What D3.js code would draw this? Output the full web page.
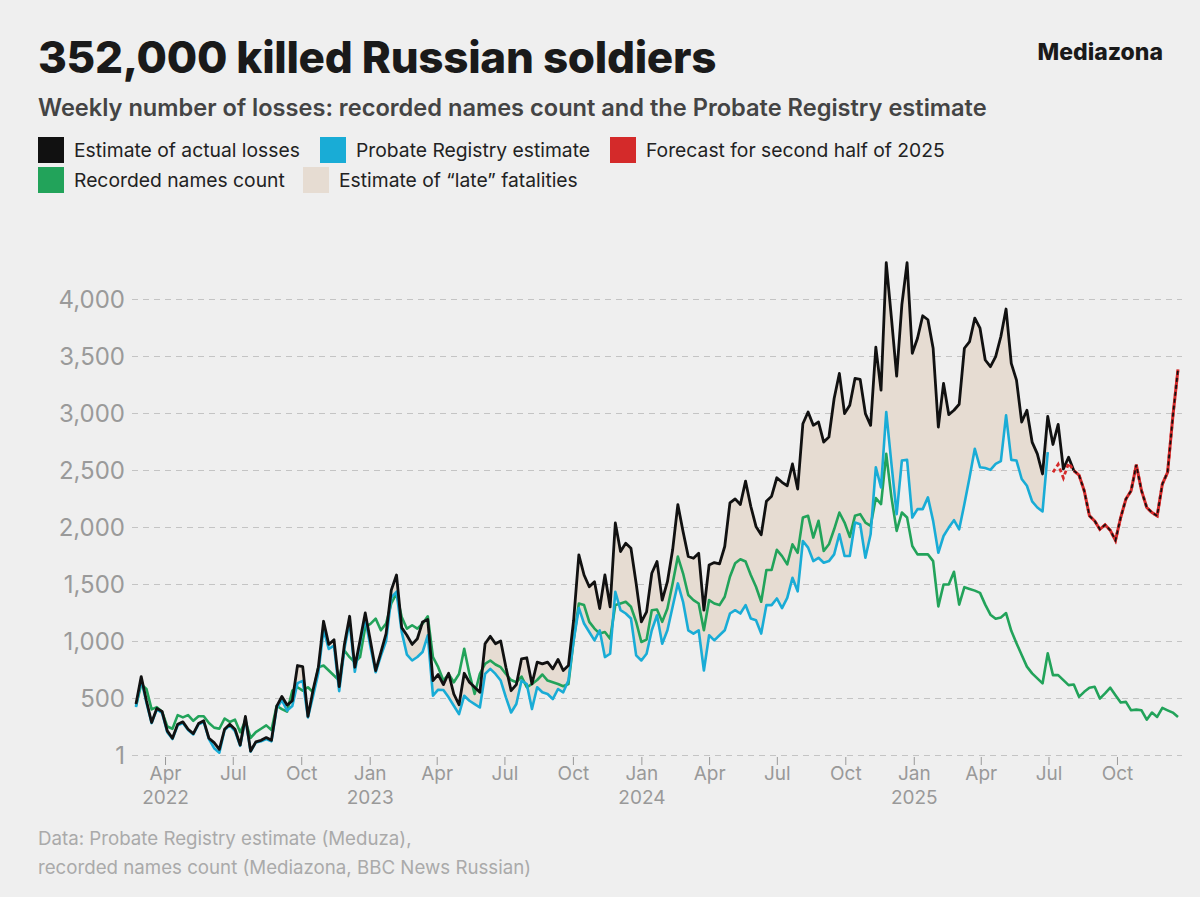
<!DOCTYPE html>
<html><head><meta charset="utf-8">
<script src="https://cdn.jsdelivr.net/npm/d3@7"></script>
<style>body{margin:0;background:#efefef;font-family:Inter,"Noto Sans",sans-serif}</style>
</head><body><svg id="c" width="1200" height="897"></svg>
<script>
const startDate = "2022-02-21";
const actualLosses = [447,688,476,285,409,382,212,147,270,291,226,188,276,300,147,109,50,226,270,226,88,338,35,115,129,153,129,426,514,438,476,785,776,338,573,770,1173,970,1011,600,970,1217,770,1005,
1246,1000,741,900,1064,1446,1579,1117,1050,970,1020,1167,1188,653,706,617,717,535,441,717,638,594,550,976,1041,976,1000,770,564,617,844,853,623,814,800,814,756,838,741,785,1182,1755,
1579,1476,1520,1285,1579,1300,2035,1785,1858,1814,1505,1168,1256,1594,1697,1359,1520,1800,2197,1961,1741,1726,1770,1270,1667,1688,1676,1829,2211,2247,2197,2402,2182,2005,1932,2226,2270,2432,
2392,2362,2553,2333,2906,3009,2892,2921,2745,2789,3127,3347,2995,3068,3303,3294,2995,2892,3577,3200,4318,3832,3324,3950,4318,3524,3656,3853,3818,3568,2877,3259,2986,3024,3077,3568,3627,3832,3744,3465,3406,3494,3671,3912,3435,3289,
2921,3024,2745,2642,2465,2970,2724,2900,2509,2612,2495];
const probate = [420,660,460,280,400,370,200,140,260,280,220,180,270,290,140,60,20,220,260,210,80,320,30,110,120,140,120,410,480,390,430,630,650,330,520,720,1100,930,960,560,930,1170,730,980,
1200,950,726,870,1000,1380,1432,1080,880,829,860,903,1050,520,573,570,506,432,359,520,476,447,417,711,756,711,653,506,373,447,653,623,403,594,550,535,491,579,550,653,1005,1290,
1153,1079,1006,1094,859,888,1432,1270,1241,1197,874,829,888,1094,1226,976,1094,1300,1505,1344,1094,1065,1094,741,1050,1006,1050,1094,1241,1270,1241,1315,1197,1182,1065,1315,1315,1373,
1289,1378,1554,1436,1877,1819,1701,1730,1686,1701,1760,1936,1745,1745,2039,2024,1730,1936,2524,2348,3009,2553,2113,2583,2589,2083,2157,2157,2260,2054,1774,1921,1995,2060,
1980,2201,2436,2686,2524,2518,2501,2553,2577,2980,2589,2583,2421,2362,2224,2171,2136,2656];
const recorded = [430,620,580,400,420,380,250,230,350,330,350,300,340,340,280,240,230,320,290,310,200,300,150,200,230,260,220,432,403,380,564,594,564,594,550,770,785,741,697,653,917,858,814,858,
1123,1150,1196,1094,1152,1329,1417,1211,1108,1138,1108,1152,1217,858,770,653,711,638,711,932,711,535,711,800,829,794,770,711,658,638,688,594,623,658,706,653,638,623,603,623,1005,1329,
1315,1168,1109,1065,1079,1020,1315,1329,1344,1300,1168,991,1012,1270,1276,1168,1285,1505,1741,1594,1403,1359,1329,1094,1359,1329,1315,1388,1564,1682,1717,1697,1579,1476,1344,1623,1623,1800,
1745,1672,1848,1774,2083,2098,1907,2054,1789,1848,1980,2127,2039,1913,2098,2113,2039,2010,2254,2201,2642,2260,1966,2127,2083,1833,1760,1760,1760,1701,1304,1495,1495,1607,
1319,1472,1457,1442,1422,1319,1231,1195,1207,1245,1089,981,878,775,716,672,628,893,701,701,657,613,619,510,554,590,598,495,540,590,525,460,466,392,398,392,310,372,334,413,392,372,334];
const forecastStart = 176;
const forecast = [2480,2550,2430,2560,2495,2456,2318,2098,2054,1980,2019,1971,1883,2083,2245,2318,2545,2318,2171,2127,2098,2377,2480,2965,3383];
const yTicks = [0,500,1000,1500,2000,2500,3000,3500,4000];
const yTickLabels = ["1","500","1,000","1,500","2,000","2,500","3,000","3,500","4,000"];
const monthNames = ["Jan","Apr","Jul","Oct"];

const svg = d3.select("#c");
svg.append("rect").attr("width",1200).attr("height",897).attr("fill","#efefef");
const t0 = d3.timeParse("%Y-%m-%d")(startDate);
const dateAt = i => d3.timeDay.offset(t0, i*7);
const x = d3.scaleTime().domain([t0, d3.timeDay.offset(t0,1400)]).range([136,1178]);
const y = d3.scaleLinear().domain([0,4000]).range([755,299]);

const yAxis = d3.axisLeft(y).tickValues(yTicks).tickFormat((d,i)=>yTickLabels[i]).tickSize(-1046);
const ga = svg.append("g").attr("transform","translate(1180,0)").call(yAxis);
ga.select(".domain").remove();
ga.selectAll(".tick line").attr("stroke","#c4c4c4").attr("stroke-dasharray","6,5").attr("transform","translate(-1048,0)").attr("x2",1050).attr("x1",0);
ga.selectAll(".tick text").attr("x",-1055).attr("dy","0.35em").attr("fill","#9a9a9a").style("font-size","24px").style("font-family","Inter,sans-serif");

const ticks = d3.timeMonth.range(new Date(2022,3,1), new Date(2025,11,1), 3);
const xAxis = d3.axisBottom(x).tickValues(ticks).tickSize(8).tickFormat(d=>monthNames[d.getMonth()/3]);
const gx = svg.append("g").attr("transform","translate(0,757)").call(xAxis);
gx.select(".domain").remove();
gx.selectAll(".tick line").attr("stroke","#999");
gx.selectAll(".tick text").attr("y",10).attr("fill","#999").style("font-size","19px").style("font-family","Inter,sans-serif");
gx.selectAll(".tick").filter(d=>d.getMonth()===0 || (d.getFullYear()===2022 && d.getMonth()===3))
  .append("text").attr("y",47).attr("fill","#999").style("font-size","19px").style("font-family","Inter,sans-serif")
  .attr("text-anchor","middle").text(d=>d.getFullYear());

const areaData = probate.map((v,i)=>({i, lo:v, hi:Math.max(v, actualLosses[i])}));
svg.append("path").datum(areaData).attr("fill","#e6dcd2")
  .attr("d", d3.area().x(d=>x(dateAt(d.i))).y0(d=>y(d.lo)).y1(d=>y(d.hi)));

const line = d3.line().x(d=>x(dateAt(d[0]))).y(d=>y(d[1]));
const pts = (arr,off=0)=>arr.map((v,i)=>[i+off,v]);
svg.append("path").datum(pts(recorded)).attr("fill","none").attr("stroke","#22a35a").attr("stroke-width",2.6).attr("stroke-linejoin","round").attr("d",line);
svg.append("path").datum(pts(probate)).attr("fill","none").attr("stroke","#19acd6").attr("stroke-width",2.6).attr("stroke-linejoin","round").attr("d",line);
svg.append("path").datum(pts(actualLosses)).attr("fill","none").attr("stroke","#111").attr("stroke-width",2.8).attr("stroke-linejoin","round").attr("d",line);
svg.append("path").datum(pts(forecast,forecastStart)).attr("fill","none").attr("stroke","#d42a2a").attr("stroke-width",2.8).attr("stroke-dasharray","4,3").attr("d",line);
const fc2 = pts(forecast,forecastStart).slice(4);
svg.append("path").datum(fc2).attr("fill","none").attr("stroke","#d42a2a").attr("stroke-width",3).attr("d",line);
svg.append("path").datum(fc2).attr("fill","none").attr("stroke","#111").attr("stroke-width",1.7).attr("stroke-dasharray","4,3").attr("d",line);

svg.append("text").attr("x",38).attr("y",73).text("352,000 killed Russian soldiers").attr("fill","#1a1a1a").style("font-size","44px").style("font-weight",800).style("font-family","Inter,sans-serif").style("letter-spacing","-0.3px");
svg.append("text").attr("x",1163).attr("y",60).attr("text-anchor","end").text("Mediazona").attr("fill","#1a1a1a").style("font-size","23px").style("font-weight",800).style("font-family","Inter,sans-serif");
svg.append("text").attr("x",38).attr("y",116).text("Weekly number of losses: recorded names count and the Probate Registry estimate").attr("fill","#444").style("font-size","23.6px").style("font-weight",600).style("font-family","Inter,sans-serif");
const legend = [
 [38,137,"#111","Estimate of actual losses"],[320,137,"#19acd6","Probate Registry estimate"],[610,137,"#d42a2a","Forecast for second half of 2025"],
 [38,167,"#22a35a","Recorded names count"],[303,167,"#e6dcd2","Estimate of “late” fatalities"]];
legend.forEach(([lx,ly,c,t])=>{
  svg.append("rect").attr("x",lx).attr("y",ly).attr("width",26).attr("height",26).attr("fill",c);
  svg.append("text").attr("x",lx+36).attr("y",ly+20).text(t).attr("fill","#222").style("font-size","19.3px").style("font-family","Inter,sans-serif");
});
svg.append("text").attr("x",38).attr("y",845).text("Data: Probate Registry estimate (Meduza),").attr("fill","#aaa").style("font-size","18.7px").style("font-family","Inter,sans-serif");
svg.append("text").attr("x",38).attr("y",874).text("recorded names count (Mediazona, BBC News Russian)").attr("fill","#aaa").style("font-size","18.7px").style("font-family","Inter,sans-serif");
</script></body></html>
